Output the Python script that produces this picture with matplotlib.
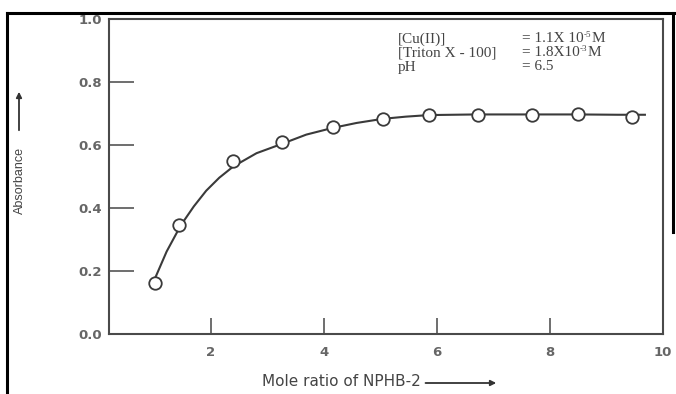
import matplotlib
matplotlib.use('Agg')
import matplotlib.pyplot as plt
from matplotlib.lines import Line2D
from matplotlib.patches import FancyArrowPatch

# measured points
ratio = [1.01, 1.43, 2.39, 3.26, 4.16, 5.04, 5.86, 6.73, 7.68, 8.50, 9.45]
absorb = [0.161, 0.345, 0.550, 0.608, 0.658, 0.684, 0.696, 0.694, 0.694, 0.700, 0.690]

# fitted curve
curve_x = [1.01, 1.22, 1.47, 1.70, 1.92, 2.15, 2.40, 2.81, 3.25, 3.69, 4.15, 4.58,
           5.04, 5.45, 5.86, 6.70, 7.60, 8.50, 9.20, 9.68]
curve_y = [0.175, 0.262, 0.345, 0.405, 0.455, 0.496, 0.532, 0.574, 0.603, 0.633,
           0.654, 0.670, 0.683, 0.690, 0.695, 0.697, 0.697, 0.697, 0.696, 0.696]

yticks = [0.0, 0.2, 0.4, 0.6, 0.8, 1.0]
xticks = [2, 4, 6, 8, 10]

# name, value, exponent, unit
conditions = [("[Cu(II)]", "= 1.1X 10", "-5", "M"),
              ("[Triton X - 100]", "= 1.8X10", "-3", "M"),
              ("pH", "= 6.5", "", "")]

W, H = 676, 394
fig = plt.figure(figsize=(W / 100, H / 100), dpi=100)
ax = fig.add_axes([109 / W, 1 - 334 / H, (663 - 109) / W, (334 - 19) / H])

ink = '#3a3a3a'
ax.plot(curve_x, curve_y, color=ink, lw=1.5, zorder=2)
ax.plot(ratio, absorb, 'o', ms=9, mfc='white', mec=ink, mew=1.3, zorder=3)

ax.set_xlim(0.2, 10.0)
ax.set_ylim(0, 1.0)
ax.set_yticks(yticks)
ax.set_yticklabels(['%.1f' % v for v in yticks])
ax.set_xticks(xticks)
for s in ax.spines.values():
    s.set_color('#4a4a4a')
    s.set_linewidth(1.5)
ax.tick_params(axis='y', direction='in', length=18, width=1.2, color='#555555', pad=5)
ax.tick_params(axis='x', direction='in', length=11.5, width=1.2, color='#555555', pad=9)
for lab in ax.get_xticklabels() + ax.get_yticklabels():
    lab.set_family('DejaVu Sans')
    lab.set_fontweight('bold')
    lab.set_fontsize(9.5)
    lab.set_color('#666666')

# condition block; the exponent is a small separate text
fig.canvas.draw()
rend = fig.canvas.get_renderer()
serif = dict(family='Liberation Serif', color='#444444', va='center')
for i, (name, val, ex, unit) in enumerate(conditions):
    yy = 1 - (39 + i * 14) / H
    fig.text(398 / W, yy, name, fontsize=11, **serif)
    t = fig.text(522 / W, yy, val, fontsize=11, **serif)
    if ex:
        x1 = t.get_window_extent(rend).x1
        e = fig.text(x1 / W, yy + 4 / H, ex, fontsize=6.5, **serif)
        x2 = e.get_window_extent(rend).x1
        fig.text(x2 / W, yy, unit, fontsize=11, **serif)

# axis labels with arrows
fig.text(20 / W, 1 - 180 / H, 'Absorbance', rotation=90, family='Liberation Sans',
         fontsize=9, color='#444444', ha='center', va='center')
fig.patches.append(FancyArrowPatch((19 / W, 1 - 133 / H), (19 / W, 1 - 89 / H),
                                   transform=fig.transFigure, arrowstyle='-|>',
                                   mutation_scale=8, color='#333333', lw=1.3))
xl = fig.text(262 / W, 1 - 382 / H, 'Mole ratio of NPHB-2', family='DejaVu Sans',
              fontsize=11, color='#444444', ha='left', va='center')
xend = xl.get_window_extent(rend).x1 + 2
fig.patches.append(FancyArrowPatch((xend / W, 1 - 383 / H), (499 / W, 1 - 383 / H),
                                   transform=fig.transFigure, arrowstyle='-|>',
                                   mutation_scale=8, color='#333333', lw=1.3))

# outer frame of the clipped figure
frame = dict(color='black', lw=2.2, transform=fig.transFigure)
fig.lines.append(Line2D([7 / W, 7 / W], [0, 1 - 13 / H], **frame))
fig.lines.append(Line2D([7 / W, 1], [1 - 13 / H, 1 - 13 / H], **frame))
fig.lines.append(Line2D([673 / W, 673 / W], [1 - 232 / H, 1 - 13 / H], **frame))

fig.savefig('out.png', dpi=100)
